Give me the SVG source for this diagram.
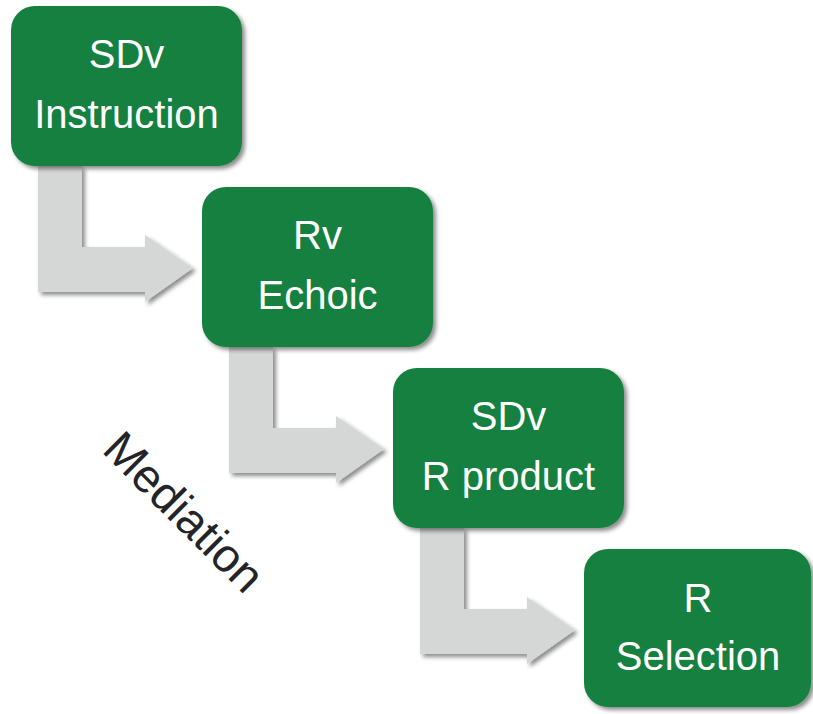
<svg xmlns="http://www.w3.org/2000/svg" width="813" height="714" viewBox="0 0 813 714">
  <defs>
    <filter id="shadow" x="-10%" y="-10%" width="130%" height="130%">
      <feDropShadow dx="3" dy="3" stdDeviation="2" flood-color="#000" flood-opacity="0.45"/>
    </filter>
    <!-- bent arrow: down, then right into the next step -->
    <path id="bent" d="M0,0 H44 V81 H107 V69 L155,102 L107,136 V126 H0 Z"/>
  </defs>
  <style>
    .box { fill: #178041; filter: url(#shadow); }
    .arrow { fill: #D4D7D5; filter: url(#shadow); }
    .label { font-family: "Liberation Sans", Arial, sans-serif; font-size: 40px; fill: #ffffff; text-anchor: middle; }
    .side { font-family: "Liberation Sans", Arial, sans-serif; font-size: 47px; fill: #222428; text-anchor: middle; }
  </style>

  <g id="connectors">
    <use href="#bent" class="arrow" x="38" y="166"/>
    <use href="#bent" class="arrow" x="229" y="347"/>
    <use href="#bent" class="arrow" x="420" y="528"/>
  </g>

  <g id="step1">
    <rect class="box" x="11" y="6" width="231" height="160" rx="24"/>
    <text class="label" x="126.5" y="68">SDv</text>
    <text class="label" x="126.5" y="128">Instruction</text>
  </g>
  <g id="step2">
    <rect class="box" x="202" y="187" width="231" height="160" rx="24"/>
    <text class="label" x="317.5" y="249">Rv</text>
    <text class="label" x="317.5" y="309">Echoic</text>
  </g>
  <g id="step3">
    <rect class="box" x="393" y="368" width="231" height="160" rx="24"/>
    <text class="label" x="508.5" y="430">SDv</text>
    <text class="label" x="508.5" y="490">R product</text>
  </g>
  <g id="step4">
    <rect class="box" x="584" y="549" width="227" height="158" rx="24"/>
    <text class="label" x="698" y="612">R</text>
    <text class="label" x="698" y="670">Selection</text>
  </g>

  <g id="mediation">
    <text class="side" transform="translate(184,512) rotate(45)" y="16">Mediation</text>
  </g>
</svg>
